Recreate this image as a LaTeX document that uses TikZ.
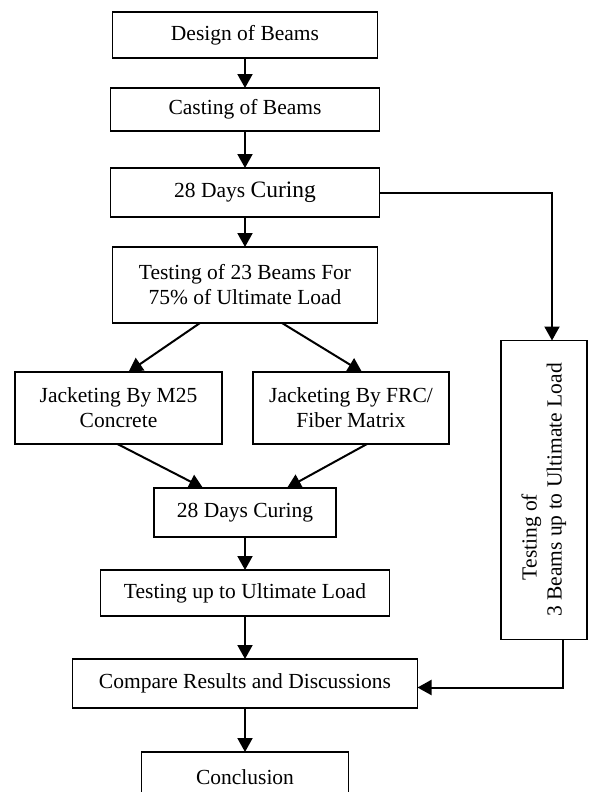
\documentclass[tikz,border=0pt]{standalone}
\usepackage{fontspec}
\setmainfont{Liberation Serif}
\usetikzlibrary{arrows.meta,positioning}

\begin{document}
\begin{tikzpicture}[
    node distance=30pt,
    box/.style={rectangle, draw, line width=1.4pt, outer sep=0pt, align=center, font=\fontsize{21.5}{25}\selectfont, inner sep=2pt},
    arrow/.style={-{Triangle[width=15pt,length=14pt]}, line width=2pt},
]
    \useasboundingbox (0,0) rectangle (592pt,-792pt);

    % Main column
    \node[box, minimum width=265pt, minimum height=46pt] (design) at (245pt,-35pt) {Design of Beams};
    \node[box, below=30pt of design, minimum width=269pt, minimum height=43pt] (casting) {Casting of Beams};
    \node[box, below=37pt of casting, minimum width=269pt, minimum height=49pt] (cure1) {28 Days {\fontsize{23.5}{25}\selectfont Curing}};
    \node[box, below=30pt of cure1, minimum width=265pt, minimum height=76pt] (test23) {Testing of 23 Beams For\\75\% of Ultimate Load};

    % Jacketing (two branches)
    \node[box, below=49pt of test23, xshift=-126.5pt, minimum width=207pt, minimum height=72pt] (m25) {Jacketing By M25\\Concrete};
    \node[box, below=49pt of test23, xshift=106pt, minimum width=196pt, minimum height=72pt] (frc) {Jacketing By FRC/\\Fiber Matrix};

    % Lower column
    \node[box, below=165pt of test23, minimum width=182pt, minimum height=49pt] (cure2) {28 Days Curing};
    \node[box, below=33pt of cure2, minimum width=289pt, minimum height=46pt] (testult) {Testing up to Ultimate Load};
    \node[box, below=43pt of testult, minimum width=345pt, minimum height=49pt] (compare) {Compare Results and Discussions};
    \node[box, below=44pt of compare, minimum width=207pt, minimum height=50pt] (concl) {Conclusion};

    % Control beams (right column)
    \node[box, right=52pt of frc, yshift=-82pt, minimum width=86pt, minimum height=299pt] (ctrl)
        {\rotatebox{90}{\begin{tabular}{@{}c@{}}Testing of\hspace*{94pt}\\3 Beams up to Ultimate Load\end{tabular}}};

    % Arrows down the main column
    \draw[arrow] (design) -- (casting);
    \draw[arrow] (casting) -- (cure1);
    \draw[arrow] (cure1) -- (test23);
    \draw[arrow] ([xshift=-45pt]test23.south) -- ([xshift=10pt]m25.north);
    \draw[arrow] ([xshift=37pt]test23.south) -- ([xshift=11pt]frc.north);
    \draw[arrow] ([xshift=-1pt]m25.south) -- ([xshift=-42pt]cure2.north);
    \draw[arrow] ([xshift=16pt]frc.south) -- ([xshift=42pt]cure2.north);
    \draw[arrow] (cure2) -- (testult);
    \draw[arrow] (testult) -- (compare);
    \draw[arrow] (compare) -- (concl);

    % Side branch
    \draw[arrow] (cure1.east) -| ([xshift=8pt]ctrl.north);
    \draw[arrow] ([xshift=19pt]ctrl.south) |- ([yshift=-4pt]compare.east);
\end{tikzpicture}
\end{document}
